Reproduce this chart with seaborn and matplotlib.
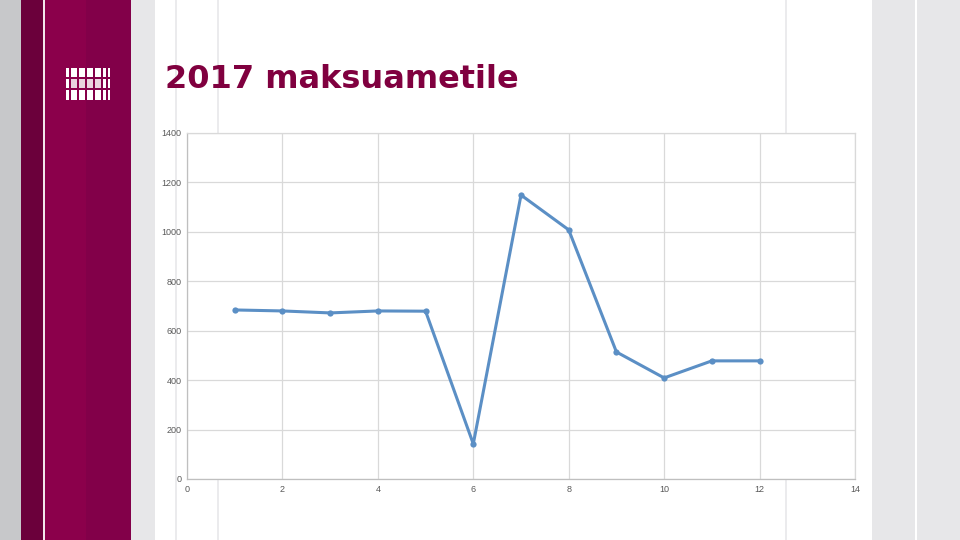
import matplotlib.pyplot as plt
import seaborn as sns
import pandas as pd
from matplotlib.patches import Rectangle

# %% data
months = [1, 2, 3, 4, 5, 6, 7, 8, 9, 10, 11, 12]
amounts = [684, 680, 672, 680, 679, 142, 1149, 1008, 514, 409, 478, 478]
x_ticks = [0, 2, 4, 6, 8, 10, 12, 14]
y_ticks = [0, 200, 400, 600, 800, 1000, 1200, 1400]
title = "2017 maksuametile"

data = pd.DataFrame({"month": months, "amount": amounts})

sns.set_style("white")
plt.rcParams["font.family"] = ["Liberation Sans", "DejaVu Sans"]

W, H = 960, 540
fig = plt.figure(figsize=(9.6, 5.4), dpi=100)


def band(x0, x1, color, y0=0, y1=H):
    fig.patches.append(Rectangle((x0 / W, 1 - y1 / H), (x1 - x0) / W, (y1 - y0) / H,
                                 transform=fig.transFigure, color=color, lw=0, zorder=-1))


# slide decoration
band(0, 21, "#c7c8ca")
band(21, 43, "#6b003b")
band(43, 44.5, "#f3e6ec")
band(44.5, 86, "#8b004b")
band(86, 131, "#820049")
band(131, 155, "#e7e7e9")
for x in (176, 218, 786):
    band(x - 0.7, x + 0.7, "#ebebed")
band(872, 915, "#e7e7e9")
band(917, 960, "#e7e7e9")

# logo
cols = [(66, 68.5), (71, 77), (79, 85), (87, 93), (95, 101), (103, 106), (108, 110)]
for row, (y0, y1) in enumerate([(68, 77), (79, 88), (90, 100)]):
    for i, (x0, x1) in enumerate(cols):
        band(x0, x1, "#ead3df" if row == 1 and 1 <= i <= 4 else "#ffffff", y0, y1)

fig.text(165 / W, 1 - 79 / H, title, fontsize=23, fontweight="bold",
         color="#80003f", va="center", ha="left", family="DejaVu Sans")

# %% chart
ax = fig.add_axes([187 / W, 1 - 479 / H, 668 / W, 346 / H])
sns.lineplot(data=data, x="month", y="amount", ax=ax, color="#5b8fc5",
             linewidth=2.2, marker="o", markersize=4.5, markeredgewidth=0)

ax.set_xlim(0, 14)
ax.set_ylim(0, 1400)
ax.set_xticks(x_ticks)
ax.set_yticks(y_ticks)
ax.grid(True, color="#d9d9d9", linewidth=0.9)
for s in ax.spines.values():
    s.set_color("#d9d9d9")
    s.set_linewidth(0.9)
ax.spines["bottom"].set_color("#bfbfbf")
ax.spines["left"].set_color("#bfbfbf")
ax.tick_params(labelsize=6.5, colors="#595959", length=0, pad=4)
ax.set_xlabel("")
ax.set_ylabel("")

plt.savefig("out.png", dpi=100)
